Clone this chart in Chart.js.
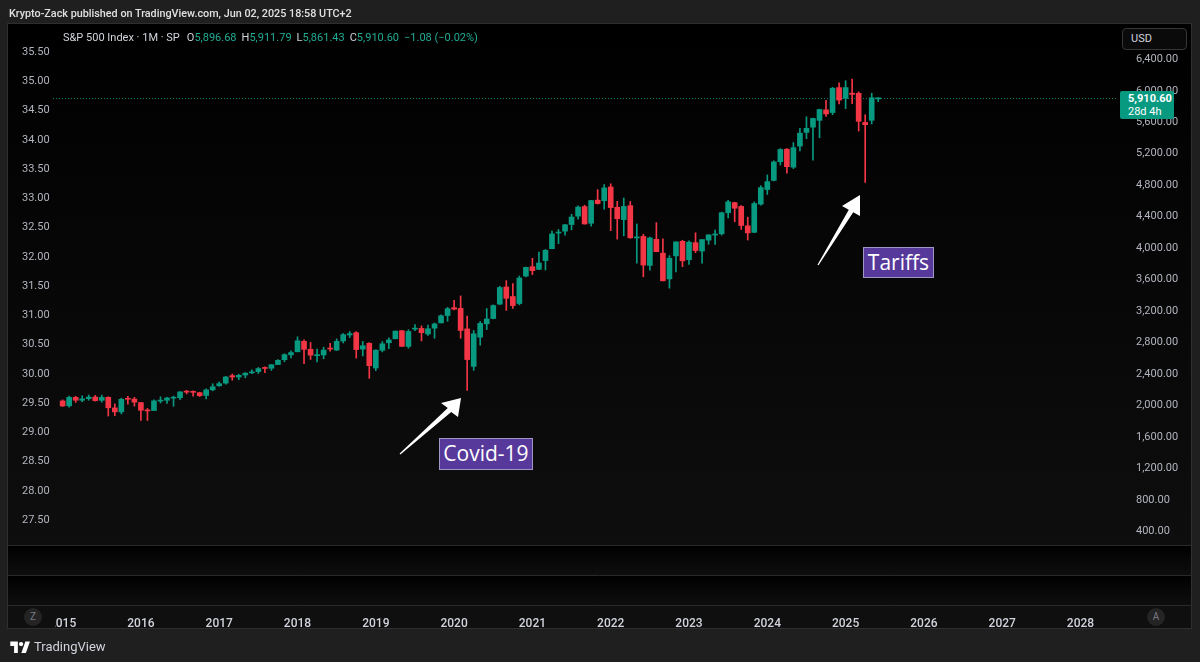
<!DOCTYPE html>
<html>
<head>
<meta charset="utf-8">
<title>S&amp;P 500 Index 1M</title>
<script src="https://cdn.jsdelivr.net/npm/chart.js@4.4.1/dist/chart.umd.min.js"></script>
<style>
  html, body { margin: 0; padding: 0; background: #1f1f1f; }
  #wrap { position: relative; width: 1200px; height: 662px; overflow: hidden; font-family: Roboto, "Liberation Sans", sans-serif; }
  #chart { position: absolute; left: 0; top: 0; }
  .abs { position: absolute; white-space: nowrap; }
  #header { left: 9px; top: 7px; font-size: 10.8px; font-weight: 500; color: #e0e0e0; }
  #legend { left: 63px; top: 31px; font-size: 11px; color: #d1d4dc; }
  #legend .v { color: #22ab94; }
  #legend .k { margin-left: 5px; }
  #usd { left: 1122px; top: 28px; width: 65px; height: 22px; box-sizing: border-box; border: 1px solid #363636; border-radius: 4px; background: #0a0a0a; color: #d1d4dc; font-size: 11px; line-height: 20px; padding-left: 8px; }
  #pricebox { left: 1120px; top: 91px; width: 54px; height: 28px; background: #089981; border-radius: 2px; color: #fff; font-size: 11px; line-height: 13px; padding: 1px 0 0 8px; box-sizing: border-box; }
  #pricebox b { font-weight: 700; }
  #zcell { left: 8px; top: 606px; width: 47px; height: 22px; background: #0f0f0f; }
  .btn { width: 18px; height: 18px; border-radius: 9px; background: #242424; color: #787b86; font-size: 10px; line-height: 18px; text-align: center; }
  #footer { left: 10px; top: 639px; font-size: 13px; color: #d1d4dc; display: flex; align-items: center; }
  #footer svg { margin-right: 4px; }
  .note { box-sizing: border-box; border: 1.5px solid #a197c6; background: #56399a; color: #fff; font-family: "Open Sans", sans-serif; font-size: 21px; text-align: center; }
</style>
</head>
<body>
<div id="wrap">
  <canvas id="chart" width="1200" height="662"></canvas>
  <div class="abs" id="header">Krypto-Zack published on TradingView.com, Jun 02, 2025 18:58 UTC+2</div>
  <div class="abs" id="legend">S&amp;P 500 Index · 1M · SP<span class="k" style="margin-left:7px">O</span><span class="v">5,896.68</span><span class="k">H</span><span class="v">5,911.79</span><span class="k">L</span><span class="v">5,861.43</span><span class="k">C</span><span class="v">5,910.60</span><span class="v" style="margin-left:5px">−1.08 (−0.02%)</span></div>
  <div class="abs" id="usd">USD</div>
  <div class="abs" id="pricebox"><b>5,910.60</b><br>28d 4h</div>
  <div class="abs" id="zcell"></div>
  <div class="abs btn" style="left:24px;top:608px">Z</div>
  <div class="abs btn" style="left:1147px;top:608px">A</div>
  <div class="abs note" style="left:439px;top:438px;width:94px;height:32px;line-height:29px">Covid-19</div>
  <div class="abs note" style="left:863px;top:247px;width:71px;height:31px;line-height:28px">Tariffs</div>
  <div class="abs" id="footer"><svg width="20" height="14" viewBox="0 0 36 26"><path d="M14 24H7V11H0V3h14v21zM29 24h-8.5L28 3h8.5L29 24z" fill="#ffffff"/><circle cx="20" cy="7.5" r="4" fill="#ffffff"/></svg>TradingView</div>
</div>
<script>
// monthly S&P 500 candles, Jan 2015 .. Jun 2025
const firstYear = 2015;
const opens = [
  2058.9, 1996.7, 2105.2, 2067.6, 2087.4, 2108.6, 2067.0, 2104.5, 1970.1, 1919.7, 2080.8, 2082.9,
  2038.2, 1936.9, 1937.1, 2056.6, 2067.2, 2093.9, 2099.3, 2173.2, 2171.3, 2164.3, 2128.7, 2200.2,
  2251.6, 2285.6, 2380.1, 2362.3, 2388.5, 2415.6, 2431.4, 2477.1, 2474.4, 2521.2, 2583.2, 2645.1,
  2683.7, 2816.5, 2715.2, 2633.5, 2643.0, 2718.7, 2705.0, 2821.2, 2897.0, 2926.3, 2717.6, 2790.5,
  2477.0, 2702.3, 2798.2, 2848.6, 2952.3, 2751.5, 2971.4, 2980.3, 2909.0, 2983.7, 3050.7, 3143.9,
  3244.7, 3235.7, 2974.3, 2498.1, 2869.1, 3038.8, 3105.9, 3288.3, 3507.4, 3385.9, 3296.2, 3645.9,
  3764.6, 3731.2, 3842.5, 3992.8, 4192.0, 4216.5, 4300.7, 4406.9, 4528.8, 4317.2, 4610.6, 4602.8,
  4778.1, 4519.6, 4363.1, 4540.3, 4130.6, 4149.8, 3781.0, 4112.4, 3937.0, 3609.8, 3901.8, 4087.1,
  3853.3, 4070.1, 3963.3, 4102.2, 4166.8, 4183.0, 4450.5, 4578.8, 4530.6, 4284.5, 4201.3, 4559.4,
  4745.2, 4861.1, 5098.5, 5258.0, 5029.0, 5297.2, 5471.1, 5537.8, 5623.9, 5757.7, 5723.2, 6040.1,
  5903.3, 5969.7, 5968.3, 5597.5, 5625.1, 5896.7
];
const highs = [
  2072.4, 2119.6, 2117.5, 2125.9, 2134.7, 2129.9, 2132.8, 2112.7, 2021.0, 2094.3, 2116.5, 2104.3,
  2038.2, 1963.0, 2072.2, 2111.1, 2103.5, 2120.6, 2177.1, 2193.8, 2187.9, 2169.6, 2214.1, 2277.5,
  2301.0, 2371.5, 2401.0, 2398.2, 2418.7, 2453.8, 2484.0, 2490.9, 2519.4, 2583.0, 2657.7, 2695.0,
  2872.9, 2836.0, 2801.9, 2717.5, 2742.2, 2791.5, 2848.0, 2916.5, 2940.9, 2939.9, 2815.2, 2800.2,
  2709.0, 2813.5, 2860.3, 2949.5, 2954.1, 2964.2, 3028.0, 3013.6, 3022.0, 3050.1, 3154.3, 3247.9,
  3337.8, 3393.5, 3136.7, 2954.9, 3068.7, 3233.1, 3280.0, 3514.8, 3588.1, 3549.9, 3646.0, 3760.2,
  3870.9, 3950.4, 3983.9, 4218.8, 4238.0, 4302.4, 4430.0, 4537.4, 4545.9, 4608.1, 4743.8, 4808.9,
  4818.6, 4595.3, 4637.3, 4593.5, 4307.7, 4177.5, 4140.2, 4325.3, 4119.3, 3905.4, 4080.1, 4101.0,
  4094.2, 4195.4, 4110.8, 4170.1, 4231.1, 4458.5, 4607.1, 4584.6, 4541.3, 4393.6, 4587.6, 4793.3,
  4931.1, 5111.1, 5264.9, 5264.0, 5341.9, 5523.6, 5669.7, 5651.6, 5767.4, 5878.5, 6044.2, 6100.0,
  6128.2, 6147.4, 5986.1, 5695.3, 5968.6, 5911.8
];
const lows = [
  1988.1, 1980.9, 2039.7, 2048.4, 2067.9, 2056.3, 2044.0, 1867.0, 1871.9, 1893.7, 2019.4, 1993.3,
  1812.3, 1810.1, 1937.1, 2033.8, 2025.9, 1991.7, 2074.0, 2147.6, 2119.1, 2114.7, 2083.8, 2187.4,
  2245.1, 2271.7, 2322.3, 2329.0, 2352.7, 2405.7, 2407.7, 2417.4, 2446.6, 2520.4, 2557.4, 2605.5,
  2682.4, 2532.7, 2585.9, 2553.8, 2594.6, 2692.0, 2699.0, 2796.3, 2864.1, 2603.5, 2631.1, 2346.6,
  2444.0, 2681.8, 2722.3, 2848.6, 2750.5, 2728.8, 2952.2, 2822.1, 2891.9, 2855.9, 3050.7, 3070.3,
  3214.6, 2855.8, 2191.9, 2447.5, 2766.6, 2965.7, 3101.2, 3284.5, 3209.5, 3233.9, 3279.7, 3633.4,
  3662.7, 3725.6, 3723.3, 3992.8, 4056.9, 4164.4, 4233.1, 4367.7, 4305.9, 4278.9, 4560.0, 4495.1,
  4222.6, 4114.7, 4157.9, 4124.3, 3810.3, 3636.9, 3721.6, 3954.5, 3584.1, 3491.6, 3698.2, 3764.5,
  3794.3, 3943.1, 3808.9, 4048.3, 4048.3, 4166.2, 4385.1, 4335.3, 4238.6, 4103.8, 4197.7, 4546.5,
  4682.1, 4853.5, 5056.8, 4953.6, 5011.1, 5234.3, 5391.0, 5119.3, 5402.6, 5674.0, 5696.5, 5832.3,
  5773.3, 5837.7, 5488.7, 4835.0, 5578.6, 5861.4
];
const closes = [
  1995.0, 2104.5, 2067.9, 2085.5, 2107.4, 2063.1, 2103.8, 1972.2, 1920.0, 2079.4, 2080.4, 2043.9,
  1940.2, 1932.2, 2059.7, 2065.3, 2097.0, 2098.9, 2173.6, 2171.0, 2168.3, 2126.2, 2199.0, 2238.8,
  2278.9, 2363.6, 2362.7, 2384.2, 2411.8, 2423.4, 2470.3, 2471.7, 2519.4, 2575.3, 2647.6, 2673.6,
  2823.8, 2713.8, 2640.9, 2648.1, 2705.3, 2718.4, 2816.3, 2901.5, 2914.0, 2711.7, 2760.2, 2506.9,
  2704.1, 2784.5, 2834.4, 2945.8, 2752.1, 2941.8, 2980.4, 2926.5, 2976.7, 3037.6, 3141.0, 3230.8,
  3225.5, 2954.2, 2584.6, 2912.4, 3044.3, 3100.3, 3271.1, 3500.3, 3363.0, 3270.0, 3621.6, 3756.1,
  3714.2, 3811.2, 3972.9, 4181.2, 4204.1, 4297.5, 4395.3, 4522.7, 4307.5, 4605.4, 4567.0, 4766.2,
  4515.6, 4373.9, 4530.4, 4131.9, 4132.2, 3785.4, 4130.3, 3955.0, 3585.6, 3872.0, 4080.1, 3839.5,
  4076.6, 3970.2, 4109.3, 4169.5, 4179.8, 4450.4, 4589.0, 4507.7, 4288.1, 4193.8, 4567.8, 4769.8,
  4845.7, 5096.3, 5254.4, 5035.7, 5277.5, 5460.5, 5522.3, 5648.4, 5762.5, 5705.5, 6032.4, 5881.6,
  6040.5, 5954.5, 5611.9, 5569.1, 5911.7, 5910.6
];
const yearTicks = [2015, 2016, 2017, 2018, 2019, 2020, 2021, 2022, 2023, 2024, 2025, 2026, 2027, 2028];
const priceTicks = [400, 800, 1200, 1600, 2000, 2400, 2800, 3200, 3600, 4000, 4400, 4800, 5200, 5600, 6000, 6400];
const leftTicks = [27.5, 28, 28.5, 29, 29.5, 30, 30.5, 31, 31.5, 32, 32.5, 33, 33.5, 34, 34.5, 35, 35.5];

const UP = '#089981';
const DOWN = '#f23645';
const colorOf = i => closes[i] >= opens[i] ? UP : DOWN;

// panes, borders, gradients
const backdrop = {
  id: 'backdrop',
  beforeDraw(chart) {
    const ctx = chart.ctx;
    ctx.save();
    ctx.fillStyle = '#1f1f1f';
    ctx.fillRect(0, 0, chart.width, chart.height);
    const panes = [[23, 545], [545, 575], [575, 605]];
    panes.forEach(([t, b]) => {
      const g = ctx.createLinearGradient(0, t, 0, b);
      g.addColorStop(0, '#000000');
      g.addColorStop(1, '#0e0e0e');
      ctx.fillStyle = g;
      ctx.fillRect(7, t, 1185, b - t);
    });
    ctx.fillStyle = '#0f0f0f';
    ctx.fillRect(7, 605, 1185, 24);
    ctx.strokeStyle = '#2a2a2a';
    ctx.lineWidth = 1;
    [545.5, 575.5, 605.5].forEach(y => {
      ctx.beginPath();
      ctx.moveTo(7, y);
      ctx.lineTo(1192, y);
      ctx.stroke();
    });
    ctx.strokeStyle = '#2f2f2f';
    ctx.strokeRect(7.5, 23.5, 1184, 605);
    ctx.restore();
  },
  beforeDatasetsDraw(chart) {
    // dotted last-price line
    const ctx = chart.ctx;
    const y = Math.round(chart.scales.y.getPixelForValue(closes[closes.length - 1])) + 0.5;
    ctx.save();
    ctx.strokeStyle = 'rgba(8,153,129,0.85)';
    ctx.setLineDash([1, 2]);
    ctx.beginPath();
    ctx.moveTo(53, y);
    ctx.lineTo(chart.chartArea.right, y);
    ctx.stroke();
    ctx.restore();
  },
  afterDraw(chart) {
    const ctx = chart.ctx;
    drawArrow(ctx, [400, 454], [461, 398], [441, 403], [458, 417]);
    drawArrow(ctx, [818, 265], [860, 195], [842, 206], [860, 216]);
  }
};

function drawArrow(ctx, tail, tip, w1, w2) {
  const bx = (w1[0] + w2[0]) / 2, by = (w1[1] + w2[1]) / 2;
  const dx = bx - tail[0], dy = by - tail[1];
  const len = Math.hypot(dx, dy);
  const nx = -dy / len, ny = dx / len;
  let a = w1, b = w2;
  if ((w1[0] - bx) * nx + (w1[1] - by) * ny < 0) { a = w2; b = w1; }
  ctx.save();
  ctx.fillStyle = '#ffffff';
  ctx.beginPath();
  ctx.moveTo(tail[0] + nx * 0.6, tail[1] + ny * 0.6);
  ctx.lineTo(bx + nx * 2.6, by + ny * 2.6);
  ctx.lineTo(a[0], a[1]);
  ctx.lineTo(tip[0], tip[1]);
  ctx.lineTo(b[0], b[1]);
  ctx.lineTo(bx - nx * 2.6, by - ny * 2.6);
  ctx.lineTo(tail[0] - nx * 0.6, tail[1] - ny * 0.6);
  ctx.closePath();
  ctx.fill();
  ctx.restore();
}

Chart.defaults.font.family = 'Roboto, "Liberation Sans", sans-serif';

new Chart(document.getElementById('chart'), {
  type: 'bar',
  data: {
    datasets: [
      {
        label: 'body',
        order: 0,
        data: closes.map((c, i) => ({ x: i, y: [opens[i], c] })),
        backgroundColor: ctx => colorOf(ctx.dataIndex),
        barThickness: 5,
        minBarLength: 1,
        borderWidth: 0,
        grouped: false,
        yAxisID: 'y'
      },
      {
        label: 'wick',
        order: 1,
        data: closes.map((c, i) => ({ x: i, y: [lows[i], highs[i]] })),
        backgroundColor: ctx => colorOf(ctx.dataIndex),
        barThickness: 1,
        borderWidth: 0,
        grouped: false,
        yAxisID: 'y'
      }
    ]
  },
  options: {
    responsive: false,
    animation: false,
    events: [],
    layout: { padding: { left: 8, right: 8, top: 23, bottom: 31 } },
    plugins: { legend: { display: false }, tooltip: { enabled: false } },
    scales: {
      x: {
        type: 'linear',
        offset: false,
        min: -8.37,
        max: 161.44,
        grid: { display: false },
        border: { display: false },
        ticks: {
          color: '#d1d4dc',
          font: { size: 12, weight: '500' },
          padding: 64,
          autoSkip: false,
          maxRotation: 0,
          callback: v => String(firstYear + Math.round(v / 12))
        },
        afterBuildTicks: s => { s.ticks = yearTicks.map(y => ({ value: (y - firstYear) * 12 })); },
        afterFit: s => { s.height = 86; s.paddingLeft = 0; s.paddingRight = 0; }
      },
      y: {
        type: 'linear',
        position: 'right',
        min: 228.5,
        max: 6861.2,
        grid: { display: false },
        border: { display: false },
        ticks: {
          color: '#b2b5be',
          font: { size: 11 },
          padding: 12,
          callback: v => v.toLocaleString('en-US', { minimumFractionDigits: 2, maximumFractionDigits: 2 })
        },
        afterBuildTicks: s => { s.ticks = priceTicks.map(v => ({ value: v })); },
        afterFit: s => { s.width = 76; s.paddingTop = 0; s.paddingBottom = 0; }
      },
      yl: {
        type: 'linear',
        display: true,
        position: 'left',
        min: 27.073,
        max: 35.996,
        grid: { display: false },
        border: { display: false },
        ticks: {
          mirror: true,
          color: '#b2b5be',
          font: { size: 11 },
          padding: 14,
          callback: v => v.toFixed(2)
        },
        afterBuildTicks: s => { s.ticks = leftTicks.map(v => ({ value: v })); },
        afterFit: s => { s.width = 0; s.paddingTop = 0; s.paddingBottom = 0; }
      }
    }
  },
  plugins: [backdrop]
});
</script>
</body>
</html>
